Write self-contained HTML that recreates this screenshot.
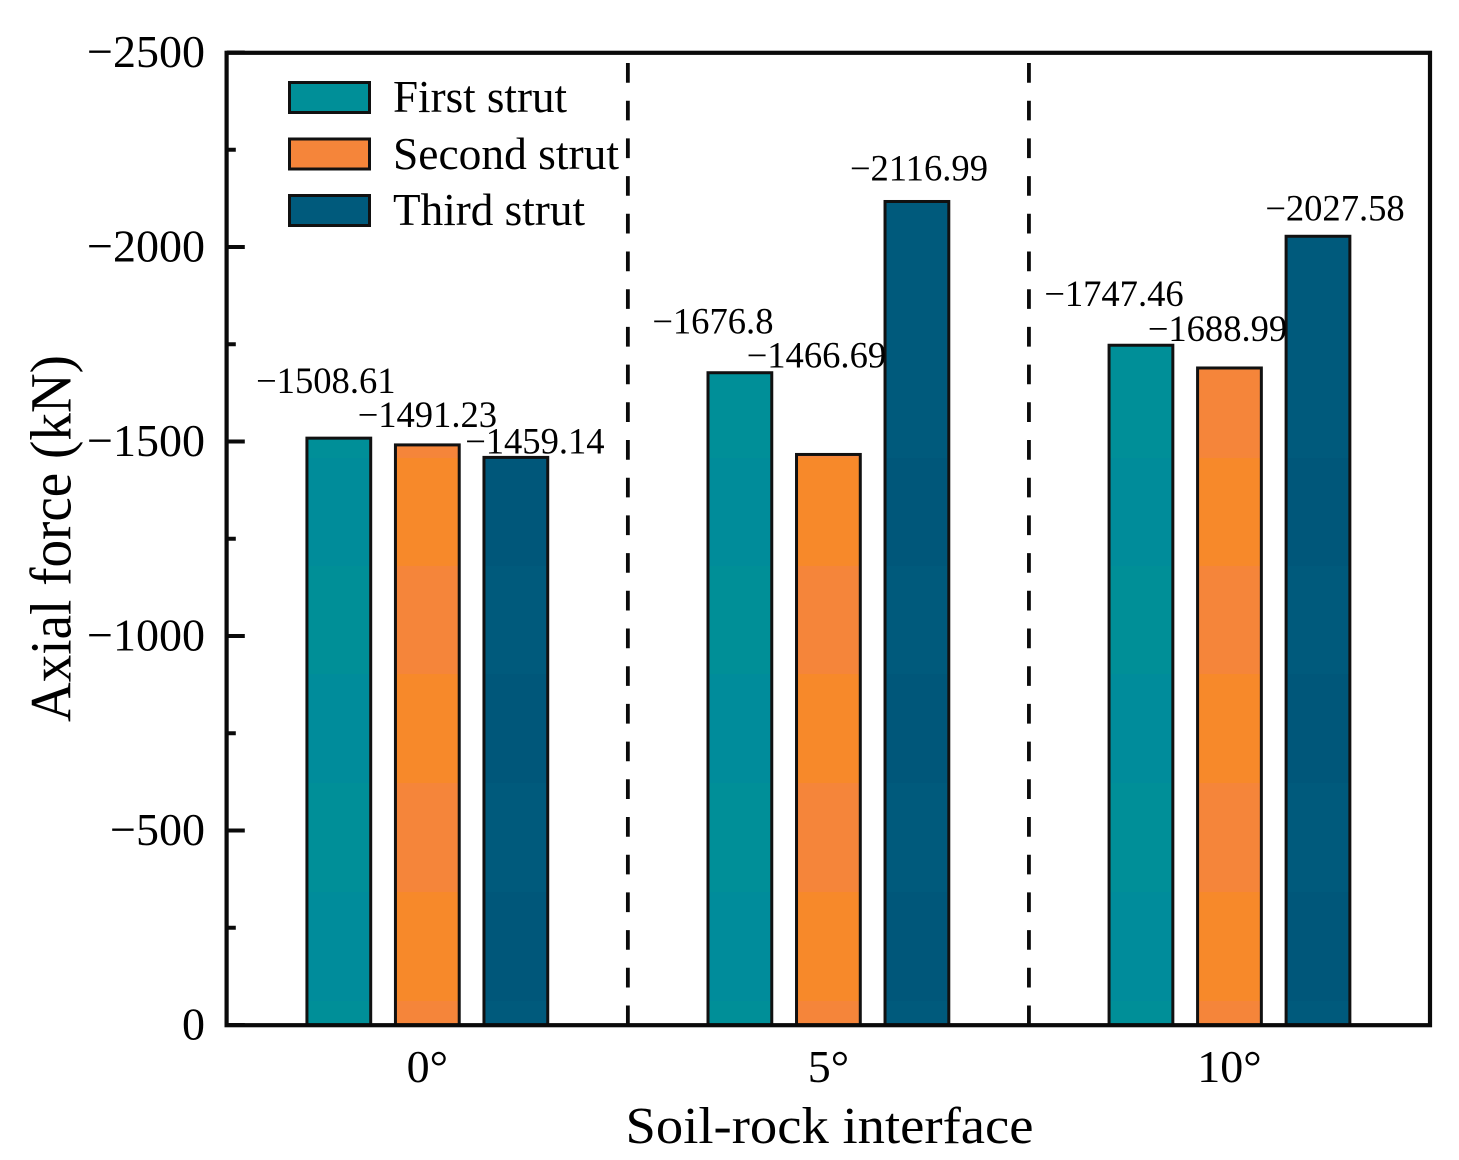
<!DOCTYPE html>
<html lang="en">
<head>
<meta charset="utf-8">
<title>Axial force by soil-rock interface</title>
<style>
html,body{margin:0;padding:0;background:#fff;width:1459px;height:1160px;overflow:hidden}
svg{display:block}
text{font-family:"Liberation Serif","Times New Roman",serif;fill:#000}
</style>
</head>
<body>
<svg id="chart" xmlns="http://www.w3.org/2000/svg" width="1459" height="1160" viewBox="0 0 1459 1160">
  <defs>
    <linearGradient id="fill-teal" gradientUnits="userSpaceOnUse" x1="0" y1="0" x2="0" y2="1160">
      <stop offset="0" stop-color="#008F98"/>
      <stop offset="0.3948" stop-color="#008F98"/><stop offset="0.3948" stop-color="#008C9A"/>
      <stop offset="0.4879" stop-color="#008C9A"/><stop offset="0.4879" stop-color="#008F97"/>
      <stop offset="0.5810" stop-color="#008F97"/><stop offset="0.5810" stop-color="#008C9B"/>
      <stop offset="0.6750" stop-color="#008C9B"/><stop offset="0.6750" stop-color="#008F98"/>
      <stop offset="0.7690" stop-color="#008F98"/><stop offset="0.7690" stop-color="#008C9B"/>
      <stop offset="0.8629" stop-color="#008C9B"/><stop offset="0.8629" stop-color="#008F98"/>
      <stop offset="1" stop-color="#008F98"/>
    </linearGradient>
    <linearGradient id="fill-orange" gradientUnits="userSpaceOnUse" x1="0" y1="0" x2="0" y2="1160">
      <stop offset="0" stop-color="#F5853A"/>
      <stop offset="0.3948" stop-color="#F5853A"/><stop offset="0.3948" stop-color="#F7892A"/>
      <stop offset="0.4879" stop-color="#F7892A"/><stop offset="0.4879" stop-color="#F5853A"/>
      <stop offset="0.5810" stop-color="#F5853A"/><stop offset="0.5810" stop-color="#F7892A"/>
      <stop offset="0.6750" stop-color="#F7892A"/><stop offset="0.6750" stop-color="#F5853A"/>
      <stop offset="0.7690" stop-color="#F5853A"/><stop offset="0.7690" stop-color="#F7892A"/>
      <stop offset="0.8629" stop-color="#F7892A"/><stop offset="0.8629" stop-color="#F5853A"/>
      <stop offset="1" stop-color="#F5853A"/>
    </linearGradient>
    <linearGradient id="fill-navy" gradientUnits="userSpaceOnUse" x1="0" y1="0" x2="0" y2="1160">
      <stop offset="0" stop-color="#005A7C"/>
      <stop offset="0.3948" stop-color="#005A7C"/><stop offset="0.3948" stop-color="#00577A"/>
      <stop offset="0.4879" stop-color="#00577A"/><stop offset="0.4879" stop-color="#005A7C"/>
      <stop offset="0.5810" stop-color="#005A7C"/><stop offset="0.5810" stop-color="#00577A"/>
      <stop offset="0.6750" stop-color="#00577A"/><stop offset="0.6750" stop-color="#005A7C"/>
      <stop offset="0.7690" stop-color="#005A7C"/><stop offset="0.7690" stop-color="#00577A"/>
      <stop offset="0.8629" stop-color="#00577A"/><stop offset="0.8629" stop-color="#005A7C"/>
      <stop offset="1" stop-color="#005A7C"/>
    </linearGradient>
  </defs>

  <rect x="0" y="0" width="1459" height="1160" fill="#ffffff"/>

  <g id="separators"></g>
  <g id="bars"></g>
  <g id="value-labels" font-size="36.6"></g>
  <g id="y-ticks"></g>
  <g id="y-tick-labels" font-size="46" text-anchor="end"></g>
  <g id="x-tick-labels" font-size="46" text-anchor="middle"></g>

  <rect x="226.6" y="52.8" width="1203.4" height="972.4" fill="none" stroke="#0a0a0a" stroke-width="4.2"/>

  <text x="829.5" y="1143" font-size="52" text-anchor="middle" textLength="408" lengthAdjust="spacingAndGlyphs">Soil-rock interface</text>
  <text transform="translate(70.7,538.5) rotate(-90)" font-size="58" text-anchor="middle" textLength="367" lengthAdjust="spacingAndGlyphs">Axial force (kN)</text>

  <g id="legend">
    <g>
      <rect x="289.5" y="82.5" width="80" height="30" fill="#008F98" stroke="#111" stroke-width="3"/>
      <text x="393" y="112" font-size="46" textLength="174" lengthAdjust="spacingAndGlyphs">First strut</text>
    </g>
    <g>
      <rect x="289.5" y="139" width="80" height="30" fill="#F5853A" stroke="#111" stroke-width="3"/>
      <text x="393" y="169" font-size="46" textLength="226" lengthAdjust="spacingAndGlyphs">Second strut</text>
    </g>
    <g>
      <rect x="289.5" y="195.5" width="80" height="30" fill="#005A7C" stroke="#111" stroke-width="3"/>
      <text x="393" y="225" font-size="46" textLength="192" lengthAdjust="spacingAndGlyphs">Third strut</text>
    </g>
  </g>
</svg>

<script>
const categories = ['0°', '5°', '10°'];
const seriesNames = ['first-strut', 'second-strut', 'third-strut'];
const firstStrut = [-1508.61, -1676.8, -1747.46];
const secondStrut = [-1491.23, -1466.69, -1688.99];
const thirdStrut = [-1459.14, -2116.99, -2027.58];
const firstStrutLabels = ['−1508.61', '−1676.8', '−1747.46'];
const secondStrutLabels = ['−1491.23', '−1466.69', '−1688.99'];
const thirdStrutLabels = ['−1459.14', '−2116.99', '−2027.58'];
const majorTicks = [0, -500, -1000, -1500, -2000, -2500];
const minorTicks = [-250, -750, -1250, -1750, -2250];
const majorTickLabels = ['0', '−500', '−1000', '−1500', '−2000', '−2500'];
const separators = [0.5, 1.5];

const plot = { left: 226.8, right: 1430, top: 52.5, bottom: 1025 };
const xMin = -0.5, xMax = 2.5, yMin = 0, yMax = -2500;
const barWidth = 0.159;
const seriesOffset = 0.2207;
const seriesFills = ['url(#fill-teal)', 'url(#fill-orange)', 'url(#fill-navy)'];
/* hand-placed annotation nudges from each bar's centre and top, per series then per category */
const labelShiftX = [[-13, -27, -27], [0, -12, -12], [19, 2, 17]];
const labelShiftY = [[-45, -39, -39], [-18, -87, -27], [-4, -21, -16]];

function xScale(v) { return plot.left + (v - xMin) / (xMax - xMin) * (plot.right - plot.left); }
function yScale(v) { return plot.bottom + (v - yMin) / (yMax - yMin) * (plot.top - plot.bottom); }

const NS = 'http://www.w3.org/2000/svg';
function make(tag, parentId, props) {
  const el = document.createElementNS(NS, tag);
  Object.keys(props).forEach(function (k) { el.setAttribute(k, props[k]); });
  document.getElementById(parentId).appendChild(el);
  return el;
}

const allSeries = [firstStrut, secondStrut, thirdStrut];
const allLabels = [firstStrutLabels, secondStrutLabels, thirdStrutLabels];

separators.forEach(function (pos) {
  const line = make('line', 'separators', {
    x1: xScale(pos), x2: xScale(pos), y1: 63, y2: plot.bottom,
    stroke: '#0a0a0a', 'stroke-width': 3.8, 'stroke-dasharray': '19.7 18'
  });
  
  
});

allSeries.forEach(function (values, s) {
  values.forEach(function (value, c) {
    const center = xScale(c + (s - 1) * seriesOffset);
    const halfWidth = (xScale(barWidth) - xScale(0)) / 2;
    const top = yScale(value);
    const bar = make('rect', 'bars', {
      x: center - halfWidth, y: top,
      width: halfWidth * 2, height: yScale(0) - top,
      fill: seriesFills[s], stroke: '#111', 'stroke-width': 3
    });
    
    

    const label = make('text', 'value-labels', {
      x: center + labelShiftX[s][c], y: top + labelShiftY[s][c], 'text-anchor': 'middle'
    });
    label.textContent = allLabels[s][c];
    
    
  });
});

majorTicks.forEach(function (value, i) {
  const y = yScale(value);
  const tick = make('line', 'y-ticks', {
    x1: plot.left, x2: plot.left + 18, y1: y, y2: y, stroke: '#0a0a0a', 'stroke-width': 4
  });
  
  

  const label = make('text', 'y-tick-labels', { x: 205, y: y + 14.5 });
  label.textContent = majorTickLabels[i];
  
  
});

minorTicks.forEach(function (value) {
  const y = yScale(value);
  const tick = make('line', 'y-ticks', {
    x1: plot.left, x2: plot.left + 9, y1: y, y2: y, stroke: '#0a0a0a', 'stroke-width': 4
  });
  
  
});

categories.forEach(function (name, c) {
  const label = make('text', 'x-tick-labels', { x: xScale(c), y: 1082 });
  label.textContent = name;
  
  
});
</script>
</body>
</html>
